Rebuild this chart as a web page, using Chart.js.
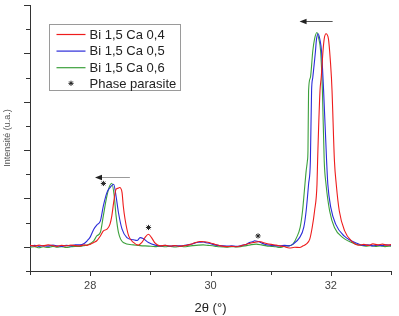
<!DOCTYPE html>
<html>
<head>
<meta charset="utf-8">
<script src="https://cdn.jsdelivr.net/npm/chart.js@4.4.1/dist/chart.umd.min.js"></script>
<style>
  html, body { margin: 0; padding: 0; background: #fff; }
  canvas { display: block; }
</style>
</head>
<body>
<canvas id="xrdChart" width="399" height="316"></canvas>
<script>
const FONT = "'Liberation Sans', Arial, sans-serif";

const seriesLabels = ["Bi 1,5 Ca 0,4", "Bi 1,5 Ca 0,5", "Bi 1,5 Ca 0,6", "Phase parasite"];
const seriesColors = ["#ee1c1c", "#2b2bd9", "#3ca03c", "#222222"];

// Bi 1,5 Ca 0,4
const redX = [27.00, 27.08, 27.15, 27.22, 27.30, 27.38, 27.45, 27.52, 27.60, 27.68, 27.75, 27.83, 27.90, 27.95,
  28.00, 28.06, 28.11, 28.17, 28.22, 28.28, 28.33, 28.36, 28.39, 28.43, 28.46, 28.49, 28.53, 28.55, 28.58, 28.64,
  28.72, 28.80, 28.86, 28.91, 28.97, 29.02, 29.08, 29.16, 29.25, 29.33, 29.41, 29.49, 29.57, 29.64, 29.71, 29.77,
  29.82, 29.88, 29.93, 30.00, 30.07, 30.15, 30.27, 30.35, 30.43, 30.52, 30.60, 30.66, 30.71, 30.77, 30.82, 30.87,
  30.93, 31.01, 31.09, 31.15, 31.22, 31.31, 31.40, 31.48, 31.54, 31.59, 31.65, 31.69, 31.73, 31.77, 31.78, 31.82,
  31.84, 31.87, 31.89, 31.92, 31.96, 31.98, 32.01, 32.02, 32.06, 32.09, 32.14, 32.23, 32.34, 32.47, 32.55, 32.62,
  32.70, 32.78, 32.86, 32.93, 33.00];
const redY = [0.06, 0.03, 0.07, 0.04, 0.08, 0.05, 0.02, 0.06, 0.04, 0.07, 0.05, 0.04, 0.08, 0.06,
  0.10, 0.18, 0.25, 0.45, 0.66, 0.73, 0.94, 1.28, 1.83, 2.38, 2.42, 2.45, 2.24, 1.70, 1.14, 0.45,
  0.18, 0.07, 0.18, 0.38, 0.52, 0.38, 0.15, 0.04, 0.06, 0.03, 0.05, 0.02, 0.05, 0.08, 0.14, 0.19,
  0.22, 0.21, 0.20, 0.16, 0.11, 0.05, 0.01, 0.02, 0.00, 0.05, 0.11, 0.15, 0.18, 0.20, 0.22, 0.18,
  0.14, 0.10, 0.07, 0.04, 0.01, -0.05, -0.02, -0.03, 0.04, 0.11, 0.32, 0.80, 1.49, 2.59, 3.55, 6.45,
  7.00, 8.10, 8.60, 8.81, 8.60, 8.10, 7.00, 6.45, 3.55, 2.59, 1.49, 0.66, 0.25, 0.07, 0.10, 0.06,
  0.12, 0.08, 0.11, 0.07, 0.09];

// Bi 1,5 Ca 0,5
const blueX = [27.00, 27.08, 27.15, 27.22, 27.30, 27.38, 27.45, 27.52, 27.60, 27.68, 27.75, 27.83, 27.90, 27.95,
  28.00, 28.06, 28.11, 28.17, 28.22, 28.28, 28.33, 28.39, 28.43, 28.47, 28.53, 28.61, 28.72, 28.78, 28.83, 28.88,
  28.97, 29.08, 29.16, 29.25, 29.33, 29.41, 29.49, 29.57, 29.64, 29.71, 29.77, 29.82, 29.88, 29.93, 29.99, 30.07,
  30.15, 30.27, 30.35, 30.43, 30.52, 30.60, 30.65, 30.71, 30.73, 30.79, 30.85, 30.90, 30.98, 31.06, 31.15, 31.23,
  31.31, 31.37, 31.48, 31.55, 31.59, 31.63, 31.66, 31.68, 31.70, 31.745, 31.76, 31.79, 31.82, 31.845, 31.88, 31.93,
  31.95, 32.00, 32.08, 32.22, 32.47, 32.55, 32.62, 32.70, 32.78, 32.86, 32.93, 33.00];
const blueY = [0.03, 0.06, 0.02, 0.05, 0.03, 0.07, 0.04, 0.02, 0.06, 0.04, 0.08, 0.08, 0.14, 0.25,
  0.40, 0.73, 0.90, 1.07, 1.70, 2.25, 2.45, 2.59, 2.10, 1.42, 0.73, 0.38, 0.29, 0.26, 0.38, 0.34,
  0.18, 0.07, 0.04, 0.06, 0.03, 0.05, 0.04, 0.06, 0.09, 0.13, 0.18, 0.19, 0.20, 0.17, 0.14, 0.08,
  0.05, 0.03, 0.04, 0.02, 0.06, 0.11, 0.18, 0.22, 0.25, 0.22, 0.16, 0.11, 0.07, 0.05, 0.04, 0.06,
  0.04, 0.11, 0.38, 0.80, 1.49, 2.59, 3.55, 6.45, 7.00, 8.10, 8.55, 8.81, 8.55, 8.10, 6.45, 3.55,
  2.59, 1.62, 0.94, 0.45, 0.11, 0.06, 0.08, 0.04, 0.07, 0.05, 0.08, 0.06];

// Bi 1,5 Ca 0,6
const greenX = [27.00, 27.08, 27.15, 27.22, 27.30, 27.38, 27.45, 27.52, 27.60, 27.68, 27.75, 27.83, 27.90, 27.97,
  28.06, 28.11, 28.17, 28.22, 28.27, 28.32, 28.36, 28.40, 28.43, 28.47, 28.55, 28.72, 28.83, 28.97, 29.08, 29.16,
  29.25, 29.33, 29.41, 29.49, 29.57, 29.64, 29.71, 29.80, 29.88, 29.96, 30.07, 30.15, 30.27, 30.35, 30.43, 30.52,
  30.60, 30.68, 30.76, 30.85, 30.93, 31.01, 31.09, 31.15, 31.23, 31.31, 31.37, 31.43, 31.49, 31.53, 31.56, 31.59,
  31.61, 31.62, 31.63, 31.66, 31.70, 31.73, 31.77, 31.80, 31.83, 31.86, 31.89, 31.92, 31.98, 32.06, 32.20, 32.42,
  32.50, 32.58, 32.66, 32.74, 32.82, 32.90, 33.00];
const greenY = [-0.02, 0.01, -0.04, 0.00, -0.03, 0.02, -0.02, 0.01, -0.03, 0.00, 0.02, 0.02, 0.05, 0.10,
  0.25, 0.45, 0.60, 1.30, 2.00, 2.50, 2.63, 2.10, 1.30, 0.60, 0.18, 0.08, 0.05, 0.03, 0.01, 0.03,
  0.00, 0.02, -0.01, 0.02, 0.00, 0.03, 0.05, 0.07, 0.08, 0.06, 0.03, 0.00, -0.02, 0.01, -0.01, 0.02,
  0.05, 0.09, 0.11, 0.08, 0.04, 0.02, 0.00, -0.03, 0.02, 0.05, 0.11, 0.38, 0.80, 1.49, 2.31, 3.14,
  3.55, 3.97, 6.45, 7.00, 8.10, 8.60, 8.86, 8.60, 8.10, 6.45, 3.55, 2.59, 1.49, 0.80, 0.38, 0.11,
  0.06, 0.03, 0.05, 0.02, 0.04, 0.01, 0.03];

// parasite phase markers
const starX = [28.22, 28.97, 30.79];
const starY = [2.62, 0.80, 0.45];

// shift arrows (from -> to, at height)
const arrowFrom = [28.66, 32.03];
const arrowTo = [28.08, 31.48];
const arrowLevel = [2.89, 9.34];
const arrowShaft = ["#9a9a9a", "#555555"];

const xTicks = [27, 28, 29, 30, 31, 32, 33];
const xLabelled = [28, 30, 32];
const yTicks = [-1, 0, 1, 2, 3, 4, 5, 6, 7, 8, 9, 10];
const yMajor = [0, 2, 4, 6, 8, 10];

function toPoints(xs, ys) {
  return xs.map((x, i) => ({ x: x, y: ys[i] }));
}

function lineSet(i, xs, ys) {
  return {
    label: seriesLabels[i],
    data: toPoints(xs, ys),
    showLine: true,
    borderColor: seriesColors[i],
    borderWidth: 1.1,
    pointRadius: 0,
    cubicInterpolationMode: "monotone",
    fill: false
  };
}

// tick marks drawn outward, major ones longer
const tickMarks = {
  id: "tickMarks",
  afterDraw(chart) {
    const ctx = chart.ctx;
    const xs = chart.scales.x, ys = chart.scales.y;
    const area = chart.chartArea;
    ctx.save();
    ctx.strokeStyle = "#333";
    ctx.lineWidth = 1;
    ctx.beginPath();
    for (const v of xTicks) {
      const px = Math.round(xs.getPixelForValue(v)) + 0.5;
      const len = xLabelled.includes(v) ? 5 : 4;
      ctx.moveTo(px, area.bottom);
      ctx.lineTo(px, area.bottom + len);
    }
    for (const v of yTicks) {
      const py = Math.round(ys.getPixelForValue(v)) + 0.5;
      const len = yMajor.includes(v) ? 6 : 4;
      ctx.moveTo(area.left, py);
      ctx.lineTo(area.left - len, py);
    }
    ctx.stroke();
    ctx.restore();
  }
};

const arrows = {
  id: "arrows",
  afterDatasetsDraw(chart) {
    const ctx = chart.ctx;
    const xs = chart.scales.x, ys = chart.scales.y;
    ctx.save();
    for (let i = 0; i < arrowFrom.length; i++) {
      const x1 = xs.getPixelForValue(arrowFrom[i]);
      const x2 = xs.getPixelForValue(arrowTo[i]);
      const y = Math.round(ys.getPixelForValue(arrowLevel[i])) + 0.5;
      ctx.strokeStyle = arrowShaft[i];
      ctx.lineWidth = 1;
      ctx.beginPath();
      ctx.moveTo(x1, y);
      ctx.lineTo(x2 + 4, y);
      ctx.stroke();
      ctx.fillStyle = "#222";
      ctx.beginPath();
      ctx.moveTo(x2, y);
      ctx.lineTo(x2 + 7, y - 2.8);
      ctx.lineTo(x2 + 7, y + 2.8);
      ctx.closePath();
      ctx.fill();
    }
    ctx.restore();
  }
};

// boxed legend inside the plot
const boxLegend = {
  id: "boxLegend",
  afterDraw(chart) {
    const ctx = chart.ctx;
    const bx = 49.5, by = 24.5, bw = 131, bh = 66;
    ctx.save();
    ctx.strokeStyle = "#9a9a9a";
    ctx.lineWidth = 1;
    ctx.strokeRect(bx, by, bw, bh);
    ctx.font = "13px " + FONT;
    ctx.textBaseline = "middle";
    chart.data.datasets.forEach((ds, i) => {
      const y = by + 10 + i * 16.6;
      if (ds.showLine) {
        ctx.strokeStyle = ds.borderColor;
        ctx.lineWidth = 1.2;
        ctx.beginPath();
        ctx.moveTo(bx + 7, y);
        ctx.lineTo(bx + 36, y);
        ctx.stroke();
      } else {
        ctx.strokeStyle = ds.borderColor;
        ctx.fillStyle = ds.backgroundColor;
        ctx.lineWidth = ds.borderWidth;
        Chart.helpers.drawPoint(ctx, {
          pointStyle: ds.pointStyle, radius: ds.pointRadius, borderWidth: ds.borderWidth
        }, bx + 21.5, y - 1);
      }
      ctx.fillStyle = "#222";
      ctx.fillText(ds.label, bx + 40, y + 0.5);
    });
    ctx.restore();
  }
};

const chart = new Chart(document.getElementById("xrdChart"), {
  type: "scatter",
  data: {
    datasets: [
      lineSet(0, redX, redY),
      lineSet(1, blueX, blueY),
      lineSet(2, greenX, greenY),
      {
        label: seriesLabels[3],
        data: toPoints(starX, starY),
        showLine: false,
        pointStyle: "star",
        pointRadius: 2.6,
        borderWidth: 1,
        borderColor: seriesColors[3],
        backgroundColor: seriesColors[3]
      }
    ]
  },
  options: {
    responsive: false,
    animation: false,
    events: [],
    devicePixelRatio: 1,
    layout: { padding: { top: 4, right: 8, bottom: 0, left: 0 } },
    plugins: { legend: { display: false }, tooltip: { enabled: false } },
    scales: {
      x: {
        type: "linear",
        min: 27,
        max: 33,
        afterFit(scale) { scale.height = 45; },
        grid: { display: false, drawTicks: false },
        border: { display: true, color: "#333", width: 1 },
        ticks: {
          stepSize: 1,
          autoSkip: false,
          maxRotation: 0,
          padding: 8,
          color: "#444",
          font: { family: FONT, size: 11 },
          callback: v => xLabelled.includes(v) ? String(v) : ""
        },
        title: {
          display: true,
          text: "2θ (°)",
          color: "#222",
          font: { family: FONT, size: 13 },
          padding: { top: 0, bottom: 0 }
        }
      },
      y: {
        type: "linear",
        min: -1,
        max: 10,
        afterFit(scale) { scale.width = 30; },
        grid: { display: false, drawTicks: false },
        border: { display: true, color: "#333", width: 1 },
        ticks: { display: false },
        title: {
          display: true,
          text: "Intensité (u.a.)",
          color: "#555",
          font: { family: FONT, size: 9 },
          padding: { top: 2, bottom: 0 }
        }
      }
    }
  },
  plugins: [tickMarks, arrows, boxLegend]
});
</script>
</body>
</html>
